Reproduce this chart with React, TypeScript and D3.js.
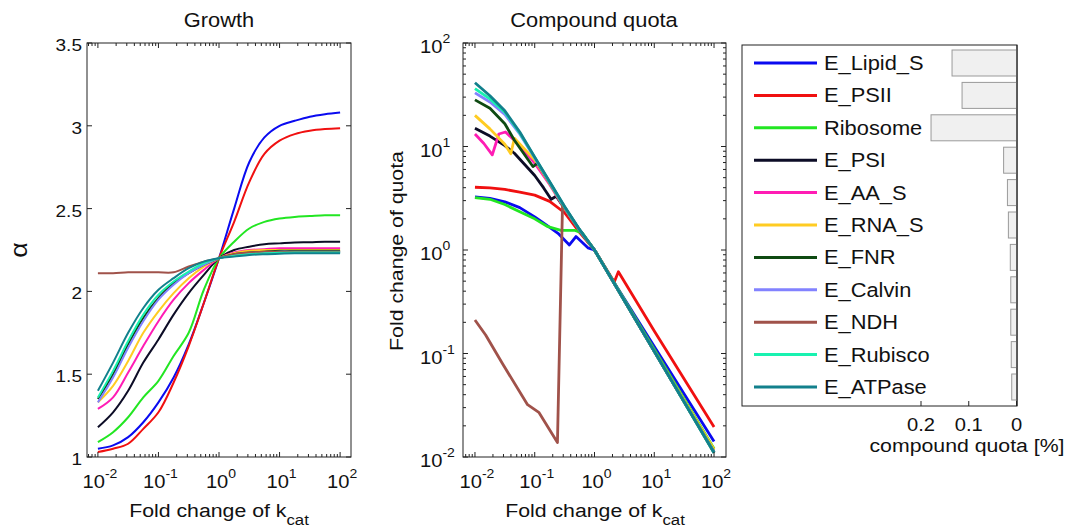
import React from "react";
import * as d3 from "d3";

const W = 1083;
const H = 529;
const SX = 1.12; // text in the figure is stretched sideways
const FONT = "'Liberation Sans', Arial, Helvetica, sans-serif";

const seriesNames = [
  "E_Lipid_S", "E_PSII", "Ribosome", "E_PSI", "E_AA_S", "E_RNA_S",
  "E_FNR", "E_Calvin", "E_NDH", "E_Rubisco", "E_ATPase",
];
const seriesColors = [
  "#0a0af0", "#f01010", "#22e622", "#0c0c26", "#ff1cb4", "#ffcc22",
  "#0e4a12", "#8282ff", "#a0524a", "#18f2b0", "#12808c",
];

// ---- Growth panel: alpha vs fold change of kcat
const kcatGrid = [0.01, 0.0178, 0.0316, 0.0562, 0.1, 0.178, 0.316, 0.562, 1, 1.78, 3.16, 5.62, 10, 17.8, 31.6, 56.2, 100];
const alphaLipidS = [1.05, 1.07, 1.12, 1.21, 1.33, 1.48, 1.68, 1.93, 2.2, 2.5, 2.78, 2.93, 3.0, 3.03, 3.055, 3.07, 3.08];
const alphaPSII = [1.03, 1.05, 1.08, 1.17, 1.27, 1.45, 1.67, 1.93, 2.2, 2.42, 2.66, 2.83, 2.91, 2.95, 2.97, 2.98, 2.985];
const alphaRibosome = [1.09, 1.15, 1.24, 1.36, 1.46, 1.61, 1.75, 2.01, 2.2, 2.3, 2.38, 2.42, 2.44, 2.45, 2.455, 2.46, 2.46];
const alphaPSI = [1.18, 1.27, 1.4, 1.57, 1.71, 1.86, 1.99, 2.1, 2.2, 2.25, 2.27, 2.285, 2.29, 2.295, 2.297, 2.3, 2.3];
const alphaAAS = [1.29, 1.36, 1.51, 1.67, 1.82, 1.95, 2.05, 2.13, 2.2, 2.235, 2.25, 2.255, 2.26, 2.26, 2.26, 2.26, 2.26];
const alphaRNAS = [1.33, 1.43, 1.58, 1.75, 1.88, 1.99, 2.08, 2.15, 2.2, 2.23, 2.245, 2.25, 2.25, 2.25, 2.25, 2.25, 2.25];
const alphaFNR = [1.35, 1.5, 1.68, 1.84, 1.96, 2.05, 2.11, 2.16, 2.2, 2.225, 2.235, 2.24, 2.245, 2.245, 2.245, 2.245, 2.245];
const alphaCalvin = [1.33, 1.48, 1.66, 1.82, 1.95, 2.04, 2.11, 2.16, 2.2, 2.22, 2.23, 2.235, 2.24, 2.24, 2.24, 2.24, 2.24];
const alphaNDH = [2.11, 2.11, 2.115, 2.115, 2.115, 2.115, 2.15, 2.18, 2.2, 2.225, 2.235, 2.24, 2.24, 2.24, 2.24, 2.24, 2.24];
const alphaRubisco = [1.36, 1.52, 1.7, 1.86, 1.98, 2.06, 2.12, 2.17, 2.2, 2.215, 2.225, 2.23, 2.233, 2.235, 2.235, 2.235, 2.235];
const alphaATPase = [1.4, 1.57, 1.75, 1.9, 2.01, 2.08, 2.14, 2.18, 2.2, 2.21, 2.22, 2.225, 2.228, 2.23, 2.23, 2.23, 2.23];
const alphaTicks = [1, 1.5, 2, 2.5, 3, 3.5];

// ---- Compound quota panel: [fold change of kcat, fold change of quota]
const quotaLipidS = [[0.01, 3.25], [0.0178, 3.16], [0.0316, 2.92], [0.0562, 2.57], [0.1, 2.09], [0.158, 1.74], [0.245, 1.45], [0.38, 1.12], [0.49, 1.35], [0.776, 1.05], [1, 1], [2.0, 0.513], [10, 0.117], [100, 0.0141]];
const quotaPSII = [[0.01, 4.04], [0.0178, 3.98], [0.0316, 3.85], [0.0562, 3.63], [0.1, 3.39], [0.178, 2.95], [0.316, 2.29], [0.562, 1.48], [1, 1], [2.14, 0.49], [2.51, 0.617], [10, 0.165], [100, 0.0195]];
const quotaRibosome = [[0.01, 3.2], [0.0178, 3.09], [0.0316, 2.75], [0.0562, 2.34], [0.1, 2.0], [0.166, 1.68], [0.275, 1.55], [0.462, 1.55], [0.631, 1.45], [1, 1], [10, 0.11], [100, 0.012]];
const quotaPSI = [[0.01, 15], [0.0178, 12.6], [0.0316, 10.2], [0.0457, 8.6], [0.1, 5.25], [0.141, 3.98], [0.188, 3.09], [0.229, 3.31], [0.316, 2.51], [0.562, 1.55], [1, 1], [10, 0.105], [100, 0.0112]];
const quotaAAS = [[0.01, 13.2], [0.0141, 10.7], [0.0195, 8.3], [0.0251, 13.2], [0.0324, 13.8], [0.0562, 10.2], [0.1, 6.9], [0.178, 4.3], [0.316, 2.51], [0.562, 1.55], [1, 1], [10, 0.105], [100, 0.0112]];
const quotaRNAS = [[0.01, 20], [0.0178, 14.8], [0.0316, 10.5], [0.0398, 8.5], [0.0457, 12.0], [0.1, 7.4], [0.178, 4.4], [0.316, 2.54], [0.562, 1.55], [1, 1], [10, 0.106], [100, 0.0118]];
const quotaFNR = [[0.01, 28.2], [0.0178, 23.4], [0.0316, 16.6], [0.0457, 11.5], [0.0933, 6.4], [0.112, 6.9], [0.178, 4.47], [0.316, 2.57], [0.562, 1.55], [1, 1], [10, 0.105], [100, 0.0112]];
const quotaCalvin = [[0.01, 33], [0.0178, 26.9], [0.0316, 20.4], [0.0562, 13.2], [0.1, 7.76], [0.178, 4.47], [0.316, 2.57], [0.562, 1.55], [1, 1], [10, 0.105], [100, 0.0111]];
const quotaNDH = [[0.01, 0.211], [0.0151, 0.151], [0.0288, 0.08], [0.0759, 0.032], [0.117, 0.027], [0.24, 0.0138], [0.292, 2.8], [0.316, 2.6], [0.562, 1.56], [1, 1], [10, 0.105], [100, 0.011]];
const quotaRubisco = [[0.01, 36.3], [0.0178, 28.8], [0.0316, 21.4], [0.0562, 13.5], [0.1, 7.85], [0.178, 4.52], [0.316, 2.6], [0.562, 1.57], [1, 1], [10, 0.105], [100, 0.011]];
const quotaATPase = [[0.01, 41.3], [0.0178, 30.9], [0.0316, 22.1], [0.0562, 13.8], [0.1, 7.9], [0.178, 4.57], [0.316, 2.63], [0.562, 1.58], [1, 1], [10, 0.105], [100, 0.011]];
const decadeTicks = [0.01, 0.1, 1, 10, 100];
const decadeExps = ["-2", "-1", "0", "1", "2"];

// ---- bar panel: compound quota [%]
const quotaShare = [0.135, 0.114, 0.179, 0.027, 0.019, 0.017, 0.013, 0.012, 0.012, 0.011, 0.01];
const shareTicks = [0.2, 0.1, 0];

const growthSeries = [alphaLipidS, alphaPSII, alphaRibosome, alphaPSI, alphaAAS, alphaRNAS, alphaFNR, alphaCalvin, alphaNDH, alphaRubisco, alphaATPase];
const quotaSeries = [quotaLipidS, quotaPSII, quotaRibosome, quotaPSI, quotaAAS, quotaRNAS, quotaFNR, quotaCalvin, quotaNDH, quotaRubisco, quotaATPase];

// log ticks with minor ticks in between
function logTicks(lo: number, hi: number) {
  const out: { v: number; major: boolean }[] = [];
  for (let e = Math.floor(Math.log10(lo)); e <= Math.ceil(Math.log10(hi)); e++) {
    for (let m = 1; m <= 9; m++) {
      const v = m * Math.pow(10, e);
      if (v >= lo && v <= hi) out.push({ v, major: m === 1 });
    }
  }
  return out;
}

function Txt(props: any) {
  const { x, y, size, anchor = "middle", rotate = 0, children, ...rest } = props;
  const tr = `translate(${x},${y})` + (rotate ? ` rotate(${rotate})` : "") + ` scale(${SX},1)`;
  return (
    <text transform={tr} fontSize={size} textAnchor={anchor} fill="#111" {...rest}>
      {children}
    </text>
  );
}

export default function App() {
  // growth panel
  const gx = d3.scaleLog().domain([Math.pow(10, -2.18), Math.pow(10, 2.18)]).range([87, 351]);
  const gy = d3.scaleLinear().domain([1, 3.5]).range([457, 43]);
  // quota panel
  const qx = d3.scaleLog().domain([Math.pow(10, -2.2), Math.pow(10, 2.2)]).range([463, 726]);
  const qy = d3.scaleLog().domain([0.01, 100]).range([457, 43]);
  // legend / bars
  const rowY = d3.scalePoint().domain(seriesNames).range([63, 387]);
  const bx = d3.scaleLinear().domain([0, 0.2]).range([1016.5, 921]);

  const gLine = d3.line<number>()
    .x((_, i) => gx(kcatGrid[i]))
    .y((d) => gy(d))
    .curve(d3.curveCatmullRom);
  const qLine = d3.line<number[]>()
    .x((d) => qx(d[0]))
    .y((d) => qy(d[1]));

  const gxTicks = logTicks(gx.domain()[0], gx.domain()[1]);
  const qxTicks = logTicks(qx.domain()[0], qx.domain()[1]);
  const qyTicks = logTicks(0.01, 100);

  const box = (x0: number, x1: number, y0: number, y1: number) => (
    <rect x={x0} y={y0} width={x1 - x0} height={y1 - y0} fill="none" stroke="#222" strokeWidth={1} />
  );

  const xLogTickMarks = (sx: any, ticks: any[], y0: number, y1: number, key: string) =>
    ticks.map((t, i) => {
      const x = sx(t.v);
      const len = t.major ? 5 : 3;
      return (
        <g key={key + i}>
          <line x1={x} x2={x} y1={y1} y2={y1 - len} stroke="#222" />
          <line x1={x} x2={x} y1={y0} y2={y0 + len} stroke="#222" />
        </g>
      );
    });

  return (
    <svg width={W} height={H} style={{ position: "absolute", left: 0, top: 0, background: "#fff" }} fontFamily={FONT}>
      <rect width={W} height={H} fill="#fff" />

      {/* ===== Growth ===== */}
      <Txt x={219} y={27} size={19.5}>Growth</Txt>
      {growthSeries.map((s, i) => (
        <path key={"g" + i} d={gLine(s) || ""} fill="none" stroke={seriesColors[i]} strokeWidth={2} />
      ))}
      {box(87, 351, 43, 457)}
      {xLogTickMarks(gx, gxTicks, 43, 457, "gxt")}
      {alphaTicks.map((t) => (
        <g key={"ga" + t}>
          <line x1={87} x2={92} y1={gy(t)} y2={gy(t)} stroke="#222" />
          <line x1={351} x2={346} y1={gy(t)} y2={gy(t)} stroke="#222" />
          <Txt x={82} y={gy(t) + 8} size={17} anchor="end">{String(t)}</Txt>
        </g>
      ))}
      {decadeTicks.map((t, i) => (
        <Txt key={"gxl" + i} x={gx(t) + 2} y={488} size={18}>
          10<tspan dy={-10} fontSize={12.5}>{decadeExps[i]}</tspan>
        </Txt>
      ))}
      <Txt x={27} y={250} size={24} rotate={-90}>α</Txt>
      <Txt x={219} y={517} size={19}>
        Fold change of k<tspan dy={8} fontSize={15}>cat</tspan>
      </Txt>

      {/* ===== Compound quota ===== */}
      <Txt x={594} y={27} size={19.5}>Compound quota</Txt>
      {quotaSeries.map((s, i) => (
        <path key={"q" + i} d={qLine(s as number[][]) || ""} fill="none" stroke={seriesColors[i]} strokeWidth={2.8} strokeLinejoin="round" />
      ))}
      {box(463, 726, 43, 457)}
      {xLogTickMarks(qx, qxTicks, 43, 457, "qxt")}
      {qyTicks.map((t, i) => {
        const y = qy(t.v);
        const len = t.major ? 5 : 3;
        return (
          <g key={"qyt" + i}>
            <line x1={463} x2={463 + len} y1={y} y2={y} stroke="#222" />
            <line x1={726} x2={726 - len} y1={y} y2={y} stroke="#222" />
          </g>
        );
      })}
      {decadeTicks.map((t, i) => (
        <Txt key={"qyl" + i} x={420} y={qy(t) + 10} size={18} anchor="start">
          10<tspan dy={-10} fontSize={12.5}>{decadeExps[i]}</tspan>
        </Txt>
      ))}
      {decadeTicks.map((t, i) => (
        <Txt key={"qxl" + i} x={qx(t) + 2} y={488} size={18}>
          10<tspan dy={-10} fontSize={12.5}>{decadeExps[i]}</tspan>
        </Txt>
      ))}
      <Txt x={403} y={251} size={19} rotate={-90}>Fold change of quota</Txt>
      <Txt x={595} y={517} size={19}>
        Fold change of k<tspan dy={8} fontSize={15}>cat</tspan>
      </Txt>

      {/* ===== Legend with quota bars ===== */}
      <rect x={742} y={45} width={275} height={361} fill="#fff" stroke="#222" strokeWidth={1} />
      {seriesNames.map((name, i) => {
        const y = rowY(name) as number;
        return (
          <g key={"lg" + i}>
            <rect x={bx(quotaShare[i])} y={y - 13} width={bx(0) - bx(quotaShare[i])} height={26} fill="#f0f0f0" stroke="#9a9a9a" strokeWidth={1} />
            <line x1={754} x2={817} y1={y} y2={y} stroke={seriesColors[i]} strokeWidth={3} />
            <Txt x={824} y={y + 7} size={19.5} anchor="start">{name}</Txt>
          </g>
        );
      })}
      <line x1={1017} x2={1017} y1={45} y2={406} stroke="#222" />
      {shareTicks.map((t) => (
        <g key={"st" + t}>
          <line x1={bx(t)} x2={bx(t)} y1={406} y2={401} stroke="#222" />
          <Txt x={bx(t)} y={431} size={18}>{String(t)}</Txt>
        </g>
      ))}
      <Txt x={967} y={452} size={19}>compound quota [%]</Txt>
    </svg>
  );
}
